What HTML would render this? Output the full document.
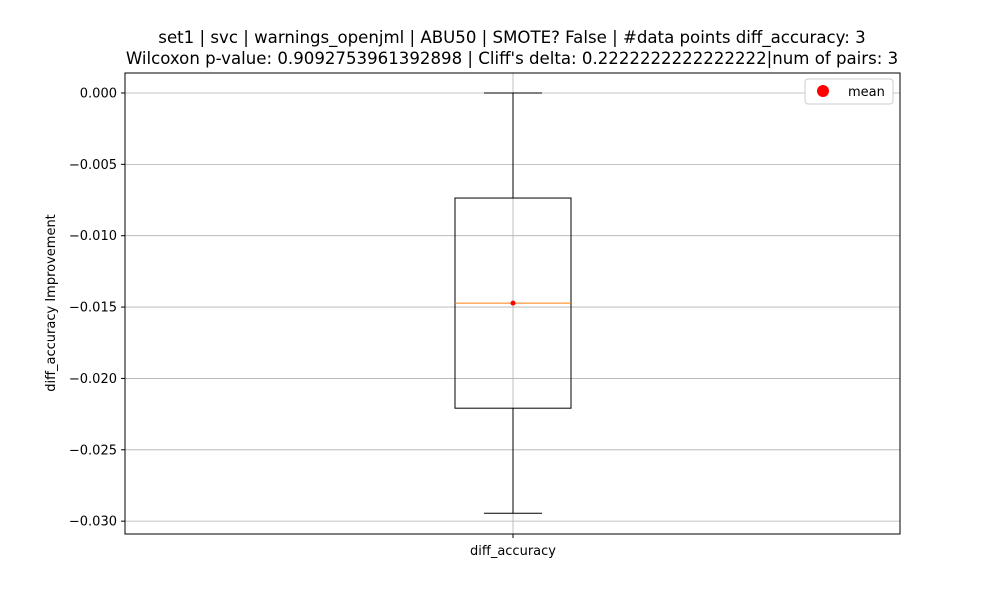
<!DOCTYPE html>
<html><head><meta charset="utf-8"><style>
body{margin:0;background:#fff;}
svg{display:block;font-family:"DejaVu Sans","Liberation Sans",sans-serif;}
</style></head><body>
<svg id="chart" width="1000" height="600">
<rect width="1000" height="600" fill="#fff"/>
<text x="512" y="43" text-anchor="middle" font-size="16.6">set1 | svc | warnings_openjml | ABU50 | SMOTE? False | #data points diff_accuracy: 3</text>
<text x="512" y="64" text-anchor="middle" font-size="16.6">Wilcoxon p-value: 0.9092753961392898 | Cliff's delta: 0.2222222222222222|num of pairs: 3</text>
<g id="grid"></g>
<g id="yticks"></g>
<g id="box"></g>
<rect x="125" y="73" width="775" height="461" fill="none" stroke="#000" stroke-width="1"/>
<text x="55" y="303" text-anchor="middle" font-size="13" transform="rotate(-90 55 303)">diff_accuracy Improvement</text>
<g>
<rect x="805" y="79" width="88" height="25" fill="#fff" stroke="#ccc" rx="3"/>
<circle cx="823" cy="91" r="6" fill="red"/>
<text x="848" y="96" font-size="13">mean</text>
</g>
</svg>
<script>
const categories = ["diff_accuracy"];
const values = [0, -0.01472, -0.02945];
const yTicks = [0, -0.005, -0.01, -0.015, -0.02, -0.025, -0.03];
const yTickLabels = ["0.000","\u22120.005","\u22120.010","\u22120.015","\u22120.020","\u22120.025","\u22120.030"];
const yMin=-0.0309, yMax=0.0014, plotTop=73, plotBot=534;
const y = v => plotTop + (yMax - v) / (yMax - yMin) * (plotBot - plotTop);
const xc = 513;
const NS="http://www.w3.org/2000/svg";
function mk(tag, attrs, parent){const e=document.createElementNS(NS,tag);for(const k in attrs)e.setAttribute(k,attrs[k]);parent.appendChild(e);return e;}
const grid=document.getElementById('grid'), yt=document.getElementById('yticks'), box=document.getElementById('box');
yTicks.forEach((t,i)=>{
  const g=mk('line',{x1:125,x2:900,y1:y(t),y2:y(t),stroke:'#b0b0b0','stroke-width':0.8},grid);
  
  
  mk('line',{x1:121,x2:125,y1:y(t),y2:y(t),stroke:'#000'},yt);
  const tx=mk('text',{x:117,y:y(t)+4.5,'text-anchor':'end','font-size':13},yt);
  tx.textContent=yTickLabels[i];
  
  
});
const vg=mk('line',{x1:xc,x2:xc,y1:plotTop,y2:plotBot,stroke:'#b0b0b0','stroke-width':0.8},grid);


mk('line',{x1:xc,x2:xc,y1:plotBot,y2:plotBot+4,stroke:'#000'},yt);
const xl=mk('text',{x:xc,y:555,'text-anchor':'middle','font-size':13},yt);
xl.textContent=categories[0];


function quant(arr,p){const s=[...arr].sort((a,b)=>a-b);const h=(s.length-1)*p;const lo=Math.floor(h),hi=Math.ceil(h);return s[lo]+(s[hi]-s[lo])*(h-lo);}
const q1=quant(values,0.25), med=quant(values,0.5), q3=quant(values,0.75);
const mn=Math.min(...values), mx=Math.max(...values);
const mean=values.reduce((a,b)=>a+b,0)/values.length;
const w1=mk('line',{x1:xc,x2:xc,y1:y(mx),y2:y(q3),stroke:'#000'},box);

const w2=mk('line',{x1:xc,x2:xc,y1:y(q1),y2:y(mn),stroke:'#000'},box);

const c1=mk('line',{x1:484,x2:542,y1:y(mx),y2:y(mx),stroke:'#000'},box);

const c2=mk('line',{x1:484,x2:542,y1:y(mn),y2:y(mn),stroke:'#000'},box);

const r=mk('rect',{x:455,y:y(q3),width:116,height:y(q1)-y(q3),fill:'none',stroke:'#000'},box);

const m=mk('line',{x1:455,x2:571,y1:y(med),y2:y(med),stroke:'#ff7f0e'},box);

const mc=mk('circle',{cx:xc,cy:y(mean),r:2.5,fill:'red'},box);

</script>
</body></html>
